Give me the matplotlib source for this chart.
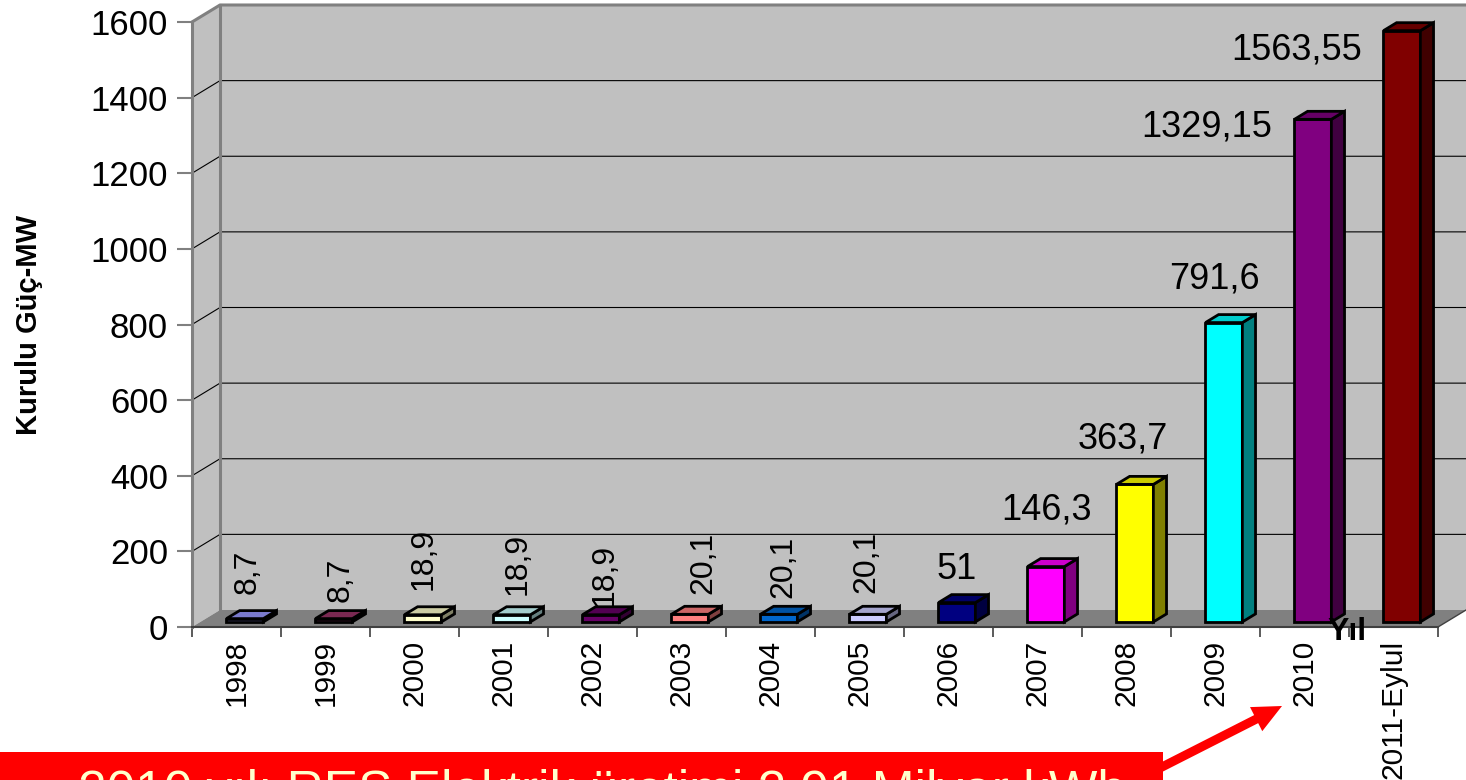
import matplotlib
matplotlib.use('Agg')
import matplotlib.pyplot as plt
from matplotlib.patches import Polygon, Rectangle, FancyArrow
import matplotlib.colors as mcolors

# ---------------- data ----------------
categories = ['1998', '1999', '2000', '2001', '2002', '2003', '2004',
              '2005', '2006', '2007', '2008', '2009', '2010', '2011-Eylul']
values = [8.7, 8.7, 18.9, 18.9, 18.9, 20.1, 20.1, 20.1, 51, 146.3,
          363.7, 791.6, 1329.15, 1563.55]
bar_colors = ['#9999FF', '#993366', '#FFFFCC', '#CCFFFF', '#660066', '#FF8080',
              '#0066CC', '#CCCCFF', '#000080', '#FF00FF', '#FFFF00', '#00FFFF',
              '#800080', '#800000']
y_ticks = [0, 200, 400, 600, 800, 1000, 1200, 1400, 1600]
y_label = 'Kurulu Güç-MW'
x_label = 'Yıl'
banner_text = '2010 yılı RES Elektrik üretimi 2,91 Milyar kWh'

# label placement (offset in pixels from bar front-top centre) and rotation
label_offsets = [(3, 47), (7, 39), (1, 56), (6, 51), (4, 40), (13, 51), (4, 47),
                 (-2, 52), (0, 33), (1, 57), (-12, 45), (-9, 44), (-106, -8),
                 (-105, -19)]
label_rot = [90] * 8 + [0] * 6

plt.rcParams['font.family'] = ['Liberation Sans', 'DejaVu Sans']

W, H = 1466, 780
fig = plt.figure(figsize=(W / 100, H / 100), dpi=100)
fig.patch.set_facecolor('white')

ax = fig.add_axes([192 / W, 153 / H, 1246 / W, 605 / H])
N = len(categories)
YMAX = 1600
ax.set_xlim(0, N)
ax.set_ylim(0, YMAX)
for s in ax.spines.values():
    s.set_visible(False)
ax.patch.set_visible(False)

# depth of the pseudo-3D box in data units
DX = 28 / 89
DY = 17 / (605 / YMAX)

wall_c = '#c0c0c0'
ax.add_patch(Polygon([(DX, DY), (N + DX, DY), (N + DX, YMAX + DY), (DX, YMAX + DY)],
                     closed=True, fc=wall_c, ec='none', clip_on=False, zorder=0))
ax.add_patch(Polygon([(0, 0), (DX, DY), (DX, YMAX + DY), (0, YMAX)],
                     closed=True, fc=wall_c, ec='none', clip_on=False, zorder=0))
ax.add_patch(Polygon([(0, 0), (N, 0), (N + DX, DY), (DX, DY)],
                     closed=True, fc='#808080', ec='none', clip_on=False, zorder=0.5))

# gridlines on walls
for v in y_ticks[1:-1]:
    ax.plot([0, DX, N + DX], [v, v + DY, v + DY], color='black', lw=0.8,
            clip_on=False, zorder=1, solid_capstyle='butt')

# wall borders
bc = '#808080'
ax.plot([0, 0], [0, YMAX], color=bc, lw=2.2, clip_on=False, zorder=2)
ax.plot([0, DX, N + DX], [YMAX, YMAX + DY, YMAX + DY], color=bc, lw=2.2,
        clip_on=False, zorder=2)
ax.plot([DX, DX], [DY, YMAX + DY], color=bc, lw=2.2, clip_on=False, zorder=2)
ax.plot([N, N + DX], [0, DY], color='#404040', lw=1.0, clip_on=False, zorder=2)
ax.plot([0, N], [0, 0], color='#404040', lw=1.5, clip_on=False, zorder=2)

# bars
F0 = 0.3     # depth position of bar front
BD = 0.47    # bar depth fraction
BW = 0.415   # bar width
ddx, ddy = BD * DX, BD * DY


def shade(c, f):
    r, g, b = mcolors.to_rgb(c)
    return (r * f, g * f, b * f)


for i, (v, col) in enumerate(zip(values, bar_colors)):
    c = i + 0.5 + F0 * DX
    base = F0 * DY
    top = base + v
    x0, x1 = c - BW / 2, c + BW / 2
    ax.add_patch(Polygon([(x0, base), (x1, base), (x1, top), (x0, top)], closed=True,
                         fc=col, ec='black', lw=2, joinstyle='miter',
                         clip_on=False, zorder=3))
    ax.add_patch(Polygon([(x1, base), (x1 + ddx, base + ddy), (x1 + ddx, top + ddy),
                          (x1, top)], closed=True, fc=shade(col, 0.5), ec='black',
                         lw=2, joinstyle='miter', clip_on=False, zorder=3))
    ax.add_patch(Polygon([(x0, top), (x1, top), (x1 + ddx, top + ddy),
                          (x0 + ddx, top + ddy)], closed=True, fc=shade(col, 0.8),
                         ec='black', lw=2, joinstyle='miter', clip_on=False, zorder=3))
    lbl = f'{v:g}'.replace('.', ',')
    rot = label_rot[i]
    ax.annotate(lbl, xy=(c, top), xytext=label_offsets[i], textcoords='offset pixels',
                ha='center', va='center', rotation=rot,
                fontsize=23 if rot else 26, color='black', zorder=6,
                annotation_clip=False)

# axes ticks
ax.set_yticks(y_ticks)
ax.set_yticklabels([str(t) for t in y_ticks])
ax.tick_params(axis='y', direction='out', length=10.8, width=1.5, color='#808080',
               pad=6.5, labelsize=25)
ax.set_xticks(range(N + 1))
ax.set_xticklabels([])
ax.tick_params(axis='x', which='major', direction='out', length=7.2, width=1.2,
               color='#404040')
ax.set_xticks([i + 0.5 for i in range(N)], minor=True)
ax.set_xticklabels(categories, minor=True, rotation=90, fontsize=21.5)
ax.tick_params(axis='x', which='minor', length=0, pad=9)

# axis titles
ax.text(12.98, -12, x_label, ha='center', va='center', fontsize=23,
        fontweight='bold', zorder=7, clip_on=False)
fig.text(29 / W, (H - 325) / H, y_label, rotation=90, ha='center', va='center',
         fontsize=21, fontweight='bold')

# red banner and arrow
fig.add_artist(Rectangle((0, 0), 1163 / W, 28 / H, transform=fig.transFigure,
                         fc='#FF0000', ec='none', zorder=1))
fig.text(78 / W, (H - 807) / H, banner_text, color='#FFFFCC', fontsize=37,
         ha='left', va='baseline', zorder=2)
fig.add_artist(FancyArrow(11.60, 0.12, 1.22, 0.62, width=0.09, head_width=0.27,
                          head_length=0.29, length_includes_head=True,
                          transform=fig.dpi_scale_trans, fc='#FF0000', ec='none',
                          zorder=3))

fig.savefig('out.png', dpi=100)
